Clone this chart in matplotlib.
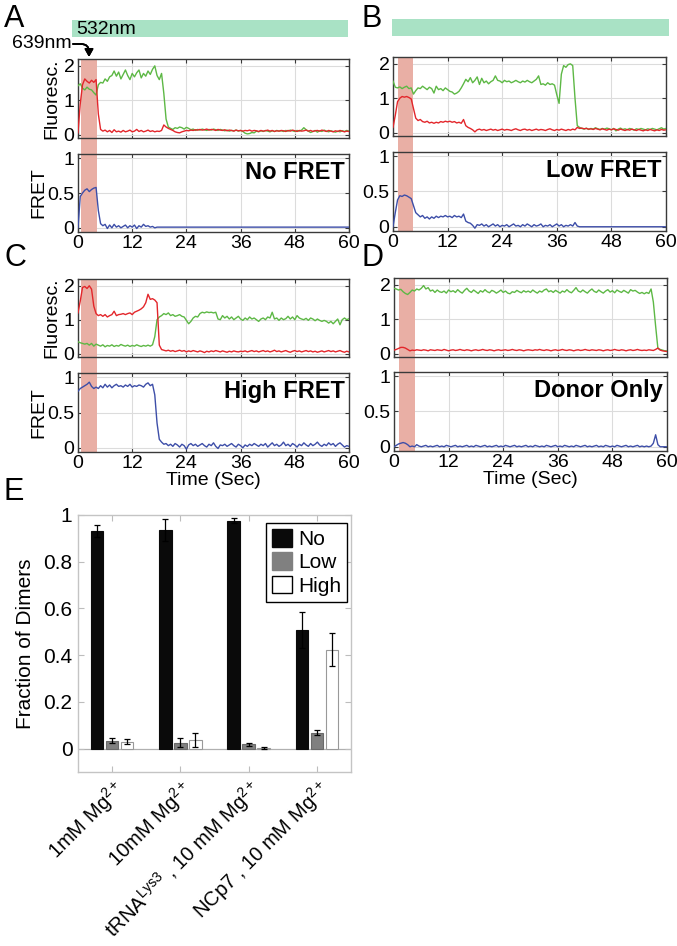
import numpy as np
import matplotlib
matplotlib.use('Agg')
import matplotlib.pyplot as plt
from matplotlib.patches import Rectangle, Patch

plt.rcParams['font.family'] = ['Liberation Sans', 'DejaVu Sans']
plt.rcParams['mathtext.fontset'] = 'custom'
plt.rcParams['mathtext.rm'] = 'Liberation Sans'
plt.rcParams['mathtext.it'] = 'Liberation Sans:italic'
plt.rcParams['mathtext.bf'] = 'Liberation Sans:bold'

# ---------------- data ----------------
time_step = 0.5          # seconds between frames
time_ticks = [0, 12, 24, 36, 48, 60]

a_green = [1.42, 1.48, 1.35, 1.30, 1.38, 1.32, 1.30, 1.22, 1.15, 1.45,
           1.52, 1.50, 1.62, 1.55, 1.68, 1.72, 1.85, 1.70, 1.82, 1.62,
           1.75, 1.88, 1.72, 1.60, 1.78, 1.68, 1.80, 1.88, 1.65, 1.78,
           1.70, 1.85, 1.75, 1.90, 2.00, 1.72, 1.60, 1.78, 1.20, 0.45,
           0.22, 0.18, 0.15, 0.20, 0.18, 0.22, 0.20, 0.16, 0.21, 0.18,
           0.14, 0.16, 0.12, 0.15, 0.13, 0.16, 0.14, 0.12, 0.15, 0.13,
           0.16, 0.14, 0.12, 0.15, 0.13, 0.11, 0.13, 0.10, 0.12, 0.11,
           0.13, 0.10, 0.12, 0.09, 0.04, 0.02, 0.03, 0.06, 0.05, 0.10,
           0.08, 0.11, 0.09, 0.12, 0.10, 0.08, 0.11, 0.09, 0.12, 0.10,
           0.11, 0.09, 0.12, 0.10, 0.13, 0.11, 0.09, 0.12, 0.10, 0.13,
           0.20, 0.14, 0.10, 0.06, 0.09, 0.12, 0.07, 0.11, 0.09, 0.13,
           0.10, 0.08, 0.11, 0.09, 0.07, 0.10, 0.08, 0.11, 0.09, 0.12,
           0.10]
a_red = [0.05, 0.90, 1.45, 1.62, 1.55, 1.50, 1.58, 1.52, 1.60, 0.60,
         0.15, 0.10, 0.13, 0.08, 0.12, 0.06, 0.14, 0.08, 0.10, 0.07,
         0.12, 0.08, 0.10, 0.13, 0.08, 0.10, 0.15, 0.09, 0.12, 0.08,
         0.10, 0.13, 0.09, 0.11, 0.08, 0.10, 0.09, 0.12, 0.28, 0.22,
         0.18, 0.15, 0.12, 0.08, 0.06, 0.05, 0.08, 0.10, 0.12, 0.11,
         0.13, 0.12, 0.14, 0.13, 0.15, 0.13, 0.14, 0.16, 0.13, 0.15,
         0.14, 0.12, 0.15, 0.13, 0.12, 0.14, 0.11, 0.13, 0.12, 0.10,
         0.13, 0.11, 0.12, 0.10, 0.12, 0.11, 0.13, 0.10, 0.12, 0.11,
         0.09, 0.12, 0.10, 0.11, 0.13, 0.10, 0.12, 0.09, 0.11, 0.10,
         0.12, 0.11, 0.09, 0.12, 0.10, 0.13, 0.11, 0.09, 0.12, 0.10,
         0.11, 0.13, 0.10, 0.12, 0.09, 0.11, 0.12, 0.10, 0.13, 0.11,
         0.09, 0.12, 0.10, 0.08, 0.11, 0.09, 0.12, 0.10, 0.08, 0.10,
         0.09]
a_fret = [0.00, 0.45, 0.50, 0.54, 0.56, 0.52, 0.55, 0.57, 0.58, 0.25,
          0.06, 0.03, 0.05, -0.01, 0.04, 0.00, 0.05, 0.01, 0.03, 0.00,
          0.02, 0.04, 0.00, 0.03, 0.01, 0.04, -0.01, 0.03, 0.01, 0.05,
          0.02, 0.03, 0.01, 0.02, 0.00, 0.01, 0.01, 0.01, 0.01, 0.01,
          0.01, 0.01, 0.01, 0.01, 0.01, 0.01, 0.01, 0.01, 0.01, 0.01,
          0.01, 0.01, 0.01, 0.01, 0.01, 0.01, 0.01, 0.01, 0.01, 0.01,
          0.01, 0.01, 0.01, 0.01, 0.01, 0.01, 0.01, 0.01, 0.01, 0.01,
          0.01, 0.01, 0.01, 0.01, 0.01, 0.01, 0.01, 0.01, 0.01, 0.01,
          0.01, 0.01, 0.01, 0.01, 0.01, 0.01, 0.01, 0.01, 0.01, 0.01,
          0.01, 0.01, 0.01, 0.01, 0.01, 0.01, 0.01, 0.01, 0.01, 0.01,
          0.01, 0.01, 0.01, 0.01, 0.01, 0.01, 0.01, 0.01, 0.01, 0.01,
          0.01, 0.01, 0.01, 0.01, 0.01, 0.01, 0.01, 0.01, 0.01, 0.01,
          0.01]
a_window = [0.7, 4.1]

b_green = [1.50, 1.32, 1.30, 1.33, 1.28, 1.32, 1.35, 1.28, 1.30, 1.12,
           1.22, 1.30, 1.28, 1.35, 1.30, 1.25, 1.32, 1.28, 1.15, 1.35,
           1.25, 1.28, 1.22, 1.30, 1.25, 1.20, 1.18, 1.12, 1.15, 1.20,
           1.30, 1.42, 1.55, 1.48, 1.60, 1.45, 1.52, 1.62, 1.40, 1.58,
           1.45, 1.50, 1.42, 1.48, 1.52, 1.65, 1.52, 1.50, 1.45, 1.52,
           1.48, 1.50, 1.45, 1.48, 1.52, 1.48, 1.45, 1.50, 1.47, 1.52,
           1.48, 1.45, 1.50, 1.55, 1.65, 1.40, 1.42, 1.38, 1.45, 1.40,
           1.42, 1.38, 1.10, 0.85, 1.70, 1.95, 1.90, 1.98, 2.00, 1.95,
           1.00, 0.20, 0.15, 0.12, 0.10, 0.13, 0.09, 0.12, 0.10, 0.14,
           0.11, 0.09, 0.12, 0.10, 0.13, 0.11, 0.08, 0.12, 0.05, 0.10,
           0.13, 0.09, 0.11, 0.08, 0.12, 0.10, 0.07, 0.11, 0.09, 0.12,
           0.10, 0.08, 0.11, 0.09, 0.12, 0.10, 0.08, 0.11, 0.14, 0.10,
           0.12]
b_red = [0.15, 0.50, 0.90, 1.00, 1.05, 1.03, 1.05, 1.02, 0.98, 0.70,
         0.42, 0.35, 0.38, 0.32, 0.30, 0.33, 0.28, 0.30, 0.27, 0.30,
         0.28, 0.32, 0.30, 0.33, 0.31, 0.33, 0.30, 0.32, 0.28, 0.30,
         0.27, 0.38, 0.20, 0.15, 0.12, 0.08, 0.02, 0.08, 0.10, 0.07,
         0.09, 0.06, 0.08, 0.10, 0.07, 0.09, 0.06, 0.08, 0.10, 0.07,
         0.09, 0.08, 0.06, 0.09, 0.11, 0.08, 0.06, 0.09, 0.10, 0.07,
         0.09, 0.06, 0.08, 0.10, 0.07, 0.09, 0.08, 0.06, 0.09, 0.11,
         0.08, 0.06, 0.09, 0.07, 0.10, 0.08, 0.06, 0.09, 0.07, 0.10,
         0.08, 0.15, 0.12, 0.13, 0.11, 0.12, 0.10, 0.11, 0.09, 0.12,
         0.10, 0.08, 0.11, 0.09, 0.07, 0.10, 0.08, 0.11, 0.09, 0.07,
         0.10, 0.08, 0.06, 0.09, 0.07, 0.10, 0.08, 0.06, 0.09, 0.07,
         0.05, 0.08, 0.06, 0.09, 0.07, 0.05, 0.08, 0.06, 0.09, 0.07,
         0.08]
b_fret = [0.00, 0.20, 0.38, 0.44, 0.43, 0.45, 0.44, 0.42, 0.40, 0.30,
          0.20, 0.17, 0.14, 0.16, 0.12, 0.14, 0.11, 0.14, 0.12, 0.15,
          0.13, 0.15, 0.14, 0.16, 0.14, 0.15, 0.13, 0.16, 0.14, 0.15,
          0.13, 0.18, 0.08, 0.06, 0.05, 0.02, -0.02, 0.03, 0.02, 0.04,
          0.01, 0.03, 0.00, 0.02, 0.04, 0.01, 0.03, 0.00, 0.02, 0.01,
          0.03, 0.00, 0.02, 0.04, 0.01, 0.02, 0.00, 0.03, 0.01, 0.04,
          0.02, 0.00, 0.03, 0.01, 0.02, 0.04, 0.00, 0.02, 0.01, 0.03,
          0.00, 0.02, 0.04, 0.01, 0.03, 0.00, 0.02, 0.01, 0.03, 0.01,
          0.06, 0.01, 0.00, 0.00, 0.00, 0.00, 0.00, 0.00, 0.00, 0.00,
          0.00, 0.00, 0.00, 0.00, 0.00, 0.00, 0.00, 0.00, 0.00, 0.00,
          0.00, 0.00, 0.00, 0.00, 0.00, 0.00, 0.00, 0.00, 0.00, 0.00,
          0.00, 0.00, 0.00, 0.00, 0.00, 0.00, 0.00, 0.00, 0.00, 0.00,
          0.00]
b_window = [1.1, 4.5]

c_green = [0.35, 0.32, 0.30, 0.28, 0.30, 0.25, 0.30, 0.22, 0.28, 0.25,
           0.22, 0.26, 0.20, 0.24, 0.22, 0.26, 0.21, 0.24, 0.22, 0.27,
           0.24, 0.22, 0.25, 0.21, 0.24, 0.22, 0.26, 0.23, 0.21, 0.24,
           0.22, 0.25, 0.22, 0.26, 0.50, 1.00, 1.08, 1.12, 1.18, 1.15,
           1.20, 1.12, 1.15, 1.10, 1.12, 1.15, 1.10, 1.08, 0.98, 0.88,
           0.95, 1.05, 1.10, 1.08, 1.18, 1.22, 1.20, 1.23, 1.21, 1.22,
           1.20, 1.22, 1.02, 1.00, 1.12, 1.05, 1.10, 1.02, 1.08, 1.00,
           1.05, 1.10, 1.02, 0.98, 1.05, 1.00, 1.08, 1.02, 1.05, 1.00,
           0.95, 1.02, 1.05, 1.00, 1.08, 1.05, 1.22, 1.02, 1.05, 0.98,
           1.05, 1.00, 1.03, 1.10, 1.02, 1.08, 1.00, 1.12, 1.05, 1.02,
           1.00, 1.04, 0.98, 1.05, 1.02, 0.97, 1.02, 0.98, 0.95, 0.98,
           0.95, 0.90, 0.95, 0.88, 0.95, 1.02, 0.85, 1.00, 1.05, 1.00,
           1.03]
c_red = [1.20, 1.55, 1.95, 1.98, 1.92, 2.00, 1.90, 1.40, 1.18, 1.12,
         1.15, 1.10, 1.15, 1.08, 1.12, 1.15, 1.25, 1.12, 1.15, 1.16,
         1.18, 1.15, 1.18, 1.20, 1.15, 1.22, 1.25, 1.28, 1.32, 1.38,
         1.50, 1.75, 1.60, 1.62, 1.58, 1.50, 0.25, 0.12, 0.10, 0.08,
         0.10, 0.07, 0.09, 0.06, 0.08, 0.10, 0.07, 0.09, 0.05, 0.08,
         0.06, 0.09, 0.07, 0.05, 0.08, 0.06, 0.03, 0.07, 0.05, 0.08,
         0.06, 0.09, 0.07, 0.05, 0.08, 0.06, 0.04, 0.07, 0.05, 0.08,
         0.06, 0.05, 0.07, 0.06, 0.08, 0.05, 0.07, 0.09, 0.06, 0.08,
         0.05, 0.07, 0.09, 0.06, 0.08, 0.05, 0.07, 0.10, 0.06, 0.08,
         0.05, 0.07, 0.09, 0.06, 0.04, 0.07, 0.09, 0.06, 0.08, 0.05,
         0.07, 0.09, 0.06, 0.08, 0.05, 0.07, 0.04, 0.06, 0.08, 0.05,
         0.07, 0.09, 0.06, 0.08, 0.05, 0.07, 0.09, 0.06, 0.04, 0.07,
         0.05]
c_fret = [0.80, 0.84, 0.86, 0.88, 0.90, 0.93, 0.87, 0.84, 0.86, 0.84,
          0.88, 0.85, 0.90, 0.86, 0.89, 0.85, 0.88, 0.90, 0.87, 0.88,
          0.86, 0.89, 0.87, 0.90, 0.86, 0.88, 0.87, 0.89, 0.88, 0.86,
          0.90, 0.92, 0.88, 0.90, 0.75, 0.35, 0.12, 0.08, 0.05, 0.06,
          0.03, 0.05, 0.02, 0.06, 0.04, 0.01, 0.05, 0.03, -0.02, 0.04,
          0.06, 0.03, 0.05, 0.02, 0.04, 0.06, 0.03, 0.01, 0.05, 0.03,
          0.07, 0.02, -0.01, 0.04, 0.03, 0.05, 0.02, 0.04, 0.06, 0.03,
          0.01, 0.05, 0.03, 0.00, 0.04, 0.02, 0.05, 0.03, 0.06, 0.04,
          0.02, 0.05, 0.03, 0.06, 0.01, 0.04, 0.07, 0.03, 0.05, 0.02,
          0.04, 0.08, 0.03, 0.05, 0.02, 0.06, 0.04, 0.01, 0.05, 0.03,
          0.07, 0.04, 0.02, 0.06, 0.03, 0.05, 0.08, 0.04, 0.02, 0.05,
          0.03, 0.07, 0.04, 0.06, 0.02, 0.05, 0.07, 0.04, 0.01, 0.03,
          0.02]
c_window = [0.7, 4.1]

d_green = [1.90, 1.88, 1.85, 1.87, 1.80, 1.75, 1.72, 1.78, 1.85, 1.82,
           1.88, 1.85, 1.90, 1.98, 1.88, 1.92, 1.82, 1.85, 1.78, 1.85,
           1.80, 1.78, 1.82, 1.76, 1.85, 1.80, 1.83, 1.78, 1.86, 1.80,
           1.76, 1.84, 1.90, 1.82, 1.78, 1.85, 1.80, 1.75, 1.83, 1.79,
           1.86, 1.80, 1.77, 1.84, 1.81, 1.76, 1.80, 1.85, 1.78, 1.82,
           1.76, 1.74, 1.80, 1.78, 1.84, 1.80, 1.77, 1.83, 1.79, 1.82,
           1.78, 1.85, 1.80, 1.76, 1.82, 1.79, 1.85, 1.88, 1.80, 1.83,
           1.78, 1.84, 1.80, 1.76, 1.82, 1.79, 1.86, 1.80, 1.77, 1.84,
           1.92, 1.82, 1.79, 1.85, 1.80, 1.76, 1.83, 1.88, 1.81, 1.78,
           1.85, 1.80, 1.76, 1.82, 1.86, 1.79, 1.83, 1.77, 1.85, 1.81,
           1.78, 1.84, 1.80, 1.76, 1.86, 1.82, 1.84, 1.79, 1.75, 1.78,
           1.74, 1.78, 1.75, 1.88, 1.50, 0.80, 0.15, 0.12, 0.10, 0.08,
           0.08]
d_red = [0.10, 0.12, 0.15, 0.18, 0.18, 0.16, 0.12, 0.08, 0.10, 0.09,
         0.11, 0.10, 0.09, 0.11, 0.10, 0.08, 0.11, 0.10, 0.09, 0.11,
         0.10, 0.09, 0.12, 0.10, 0.08, 0.10, 0.11, 0.09, 0.10, 0.12,
         0.10, 0.09, 0.11, 0.10, 0.08, 0.10, 0.11, 0.09, 0.10, 0.12,
         0.10, 0.09, 0.11, 0.10, 0.08, 0.10, 0.11, 0.09, 0.10, 0.11,
         0.09, 0.10, 0.12, 0.10, 0.09, 0.11, 0.10, 0.08, 0.10, 0.11,
         0.10, 0.09, 0.11, 0.10, 0.12, 0.10, 0.09, 0.11, 0.10, 0.08,
         0.10, 0.11, 0.09, 0.10, 0.12, 0.10, 0.09, 0.11, 0.10, 0.08,
         0.10, 0.11, 0.09, 0.10, 0.12, 0.10, 0.09, 0.11, 0.10, 0.09,
         0.11, 0.10, 0.08, 0.10, 0.11, 0.09, 0.10, 0.12, 0.10, 0.09,
         0.11, 0.10, 0.08, 0.10, 0.11, 0.09, 0.10, 0.12, 0.10, 0.09,
         0.10, 0.09, 0.11, 0.10, 0.09, 0.12, 0.16, 0.10, 0.08, 0.07,
         0.06]
d_fret = [0.00, 0.02, 0.04, 0.05, 0.06, 0.05, 0.03, 0.00, 0.01, 0.00,
          0.03, 0.01, 0.00, 0.01, 0.02, 0.00, 0.01, 0.00, 0.01, 0.02,
          0.00, 0.01, 0.00, 0.02, 0.01, 0.00, 0.01, 0.02, 0.00, 0.01,
          0.00, 0.01, 0.02, 0.00, 0.01, 0.00, 0.02, 0.01, 0.00, 0.01,
          0.02, 0.00, 0.01, 0.00, 0.01, 0.02, 0.00, 0.01, 0.00, 0.02,
          0.01, 0.00, 0.01, 0.02, 0.00, 0.01, 0.00, 0.01, 0.02, 0.00,
          0.01, 0.00, 0.02, 0.01, 0.00, 0.01, 0.00, 0.02, 0.01, 0.00,
          0.01, 0.02, 0.00, 0.01, 0.00, 0.02, 0.01, 0.00, 0.01, 0.00,
          0.02, 0.01, 0.00, 0.01, 0.02, 0.00, 0.01, 0.00, 0.01, 0.02,
          0.00, 0.01, 0.00, 0.02, 0.01, 0.00, 0.01, 0.00, 0.02, 0.01,
          0.00, 0.01, 0.02, 0.00, 0.01, 0.00, 0.01, 0.02, 0.00, 0.01,
          0.00, 0.01, 0.00, 0.01, 0.05, 0.17, 0.03, 0.00, 0.00, 0.00,
          0.00]
d_window = [1.0, 4.7]

trace_names = ['No FRET', 'Low FRET', 'High FRET', 'Donor Only']

conditions = [r'1mM Mg$^{2+}$', r'10mM Mg$^{2+}$',
              r'tRNA$^{\mathrm{Lys3}}$ , 10 mM Mg$^{2+}$', r'NCp7 , 10 mM Mg$^{2+}$']
no_fret = [0.931, 0.936, 0.976, 0.506]
no_err = [0.026, 0.047, 0.010, 0.077]
low_fret = [0.034, 0.026, 0.019, 0.069]
low_err = [0.012, 0.021, 0.006, 0.010]
high_fret = [0.030, 0.039, 0.004, 0.424]
high_err = [0.012, 0.030, 0.004, 0.071]
legend_labels = ['No', 'Low', 'High']

# ---------------- styling ----------------
GREEN = '#5db845'
RED = '#e3262b'
BLUE = '#3d4ea8'
SHADE = '#e9afa5'
MINT = '#a9e2c5'
GRID = '#dcdcdc'
SPINE = '#3a3a3a'

W, H = 677, 946
fig = plt.figure(figsize=(W / 100, H / 100), dpi=100)


def add_ax(l, t, r, b):
    return fig.add_axes([l / W, 1 - b / H, (r - l) / W, (b - t) / H])


TICK_FS = 14


def style_trace_ax(ax):
    ax.set_xlim(0, 60)
    ax.set_xticks(time_ticks)
    ax.grid(True, color=GRID, lw=0.8)
    ax.set_axisbelow(True)
    ax.tick_params(direction='in', top=True, right=True, length=3,
                   width=0.8, color=SPINE, labelsize=TICK_FS, pad=2.5)
    for s in ax.spines.values():
        s.set_color(SPINE)
        s.set_linewidth(1.0)


panels = [
    dict(green=a_green, red=a_red, fret=a_fret, window=a_window, name=trace_names[0],
         top=(78, 59, 349, 138), bot=(78, 154, 349, 232), left=True, xlabel=False),
    dict(green=b_green, red=b_red, fret=b_fret, window=b_window, name=trace_names[1],
         top=(393, 57, 666, 136), bot=(393, 152, 666, 231), left=False, xlabel=False),
    dict(green=c_green, red=c_red, fret=c_fret, window=c_window, name=trace_names[2],
         top=(78, 279, 349, 357), bot=(78, 373, 349, 452), left=True, xlabel=True),
    dict(green=d_green, red=d_red, fret=d_fret, window=d_window, name=trace_names[3],
         top=(394, 278, 667, 357), bot=(394, 372, 667, 451), left=False, xlabel=True),
]

for p in panels:
    axf = add_ax(*p['top'])
    axr = add_ax(*p['bot'])
    tg = time_step * np.arange(len(p['green']))
    tr = time_step * np.arange(len(p['red']))
    tf = time_step * np.arange(len(p['fret']))
    axf.plot(tg, p['green'], color=GREEN, lw=1.0, zorder=3)
    axf.plot(tr, p['red'], color=RED, lw=1.0, zorder=3)
    axr.plot(tf, p['fret'], color=BLUE, lw=1.0, zorder=3)
    for ax in (axf, axr):
        style_trace_ax(ax)
    axf.set_ylim(-0.1, 2.2)
    axf.set_yticks([0, 1, 2])
    axf.set_yticklabels(['0', '1', '2'])
    axf.tick_params(labelbottom=False)
    axr.set_ylim(-0.06, 1.06)
    axr.set_yticks([0, 0.5, 1])
    axr.set_yticklabels(['0', '0.5', '1'])
    # red-laser excitation window spans both axes and the gap between them
    pf, pr = axf.get_position(), axr.get_position()
    gap = (pf.y0 - pr.y1) / pf.height
    w0, w1 = p['window']
    axf.axvspan(w0, w1, ymin=-gap, ymax=1, color=SHADE, lw=0, zorder=1, clip_on=False)
    axr.axvspan(w0, w1, color=SHADE, lw=0, zorder=1)
    axr.text(0.985, 0.68, p['name'], transform=axr.transAxes, ha='right',
             va='baseline', fontsize=17, fontweight='bold', zorder=5)
    if p['left']:
        axf.set_ylabel('Fluoresc.', fontsize=14, labelpad=2)
        axr.set_ylabel('FRET', fontsize=14, labelpad=0)
    if p['xlabel']:
        axr.set_xlabel('Time (Sec)', fontsize=14, labelpad=0)

# green 532nm bars and labels
fig.add_artist(Rectangle((72 / W, 1 - 37 / H), (348 - 72) / W, 17 / H,
                         transform=fig.transFigure, color=MINT, lw=0))
fig.add_artist(Rectangle((392 / W, 1 - 36 / H), (669 - 392) / W, 17 / H,
                         transform=fig.transFigure, color=MINT, lw=0))
fig.text(76 / W, 1 - 29 / H, '532nm', fontsize=14, va='center', ha='left')
fig.text(12 / W, 1 - 44 / H, '639nm', fontsize=14, va='center', ha='left')
fig.add_artist(plt.annotate('', xy=(89, H - 57), xytext=(73, H - 44),
                            xycoords='figure pixels', textcoords='figure pixels',
                            arrowprops=dict(arrowstyle='-|>,head_length=0.45,head_width=0.25',
                                            color='black', lw=1.3,
                                            connectionstyle='angle,angleA=0,angleB=-90,rad=8',
                                            shrinkA=0, shrinkB=0)))

# panel letters
for letter, x, y in [('A', 4, 27), ('B', 361, 27), ('C', 4, 266), ('D', 361, 266), ('E', 4, 500)]:
    fig.text(x / W, 1 - y / H, letter, fontsize=22, va='baseline', ha='left')

# ---------------- panel E: bar chart ----------------
axe = add_ax(78, 515, 351, 772)
x = np.arange(1, len(conditions) + 1)
bw = 0.18
ekw = dict(ecolor='black', elinewidth=0.9, capsize=2, capthick=0.9)
axe.axhline(0, color='#b0b0b0', lw=0.9, zorder=1)
axe.bar(x - 0.22, no_fret, bw, yerr=no_err, color='#0a0a0a', edgecolor='#0a0a0a',
        lw=0.8, error_kw=ekw, zorder=2)
axe.bar(x, low_fret, bw, yerr=low_err, color='#808080', edgecolor='#6a6a6a',
        lw=0.8, error_kw=ekw, zorder=2)
axe.bar(x + 0.22, high_fret, bw, yerr=high_err, color='white', edgecolor='#999999',
        lw=0.8, error_kw=ekw, zorder=2)
axe.set_xlim(0.5, 4.5)
axe.set_ylim(-0.1, 1.0)
axe.set_yticks([0, 0.2, 0.4, 0.6, 0.8, 1.0])
axe.set_yticklabels(['0', '0.2', '0.4', '0.6', '0.8', '1'])
axe.set_xticks(x)
axe.set_xticklabels(conditions, rotation=45, ha='right', rotation_mode='anchor',
                    fontsize=14.5)
axe.tick_params(direction='in', top=True, right=True, length=4, width=0.8,
                color='#bdbdbd', labelcolor='black', labelsize=15, pad=4)
axe.tick_params(axis='x', labelsize=14.5, pad=3)
for s in axe.spines.values():
    s.set_color('#c4c4c4')
    s.set_linewidth(1.0)
axe.set_ylabel('Fraction of Dimers', fontsize=15, labelpad=6)
handles = [Patch(facecolor='#0a0a0a', edgecolor='#0a0a0a'),
           Patch(facecolor='#808080', edgecolor='#808080'),
           Patch(facecolor='white', edgecolor='black')]
leg = axe.legend(handles, legend_labels, loc='upper right',
                 bbox_to_anchor=(0.987, 0.97), fontsize=15, frameon=True,
                 fancybox=False, framealpha=1, edgecolor='black',
                 handlelength=0.95, handleheight=0.95, handletextpad=0.3,
                 borderpad=0.3, labelspacing=0.15, borderaxespad=0)
leg.get_frame().set_linewidth(1.0)

fig.savefig('out.png', dpi=100)
